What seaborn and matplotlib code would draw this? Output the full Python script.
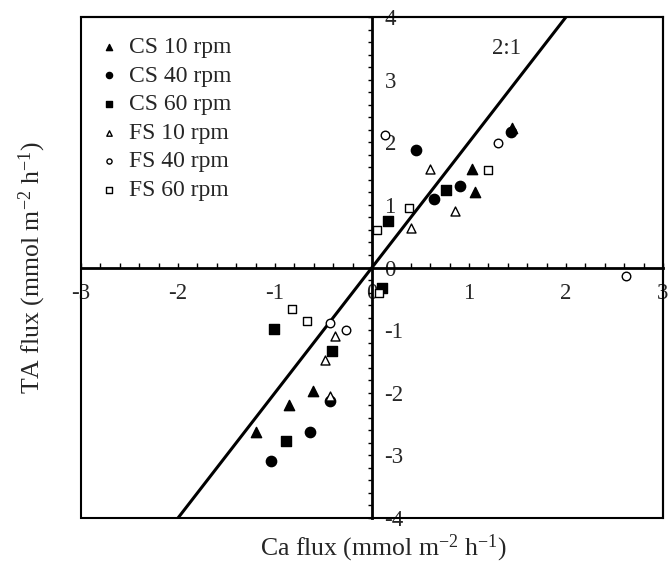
import numpy as np
import pandas as pd
import matplotlib
matplotlib.use("Agg")
import matplotlib.pyplot as plt
from matplotlib.ticker import MultipleLocator, FixedLocator
from matplotlib.patches import Rectangle
import seaborn as sns

# Ca flux vs TA flux for each sediment / stirring treatment
cs10_ca = [1.03, 1.06, 1.44, -0.61, -0.86, -1.20]
cs10_ta = [1.58, 1.21, 2.22, -1.98, -2.19, -2.62]

cs40_ca = [0.45, 0.91, 0.64, 1.43, -0.43, -0.64, -1.04]
cs40_ta = [1.87, 1.30, 1.09, 2.17, -2.13, -2.62, -3.09]

cs60_ca = [0.76, 0.17, 0.10, -1.01, -0.41, -0.89]
cs60_ta = [1.24, 0.75, -0.32, -0.99, -1.34, -2.77]

fs10_ca = [0.60, 0.86, 0.40, -0.38, -0.48, -0.43]
fs10_ta = [1.58, 0.91, 0.63, -1.10, -1.47, -2.05]

fs40_ca = [0.13, 1.30, 2.62, -0.43, -0.27]
fs40_ta = [2.11, 1.99, -0.13, -0.88, -1.00]

fs60_ca = [1.20, 0.38, 0.05, 0.07, -0.82, -0.67]
fs60_ta = [1.56, 0.95, 0.60, -0.40, -0.67, -0.85]

series_names = ["CS 10 rpm", "CS 40 rpm", "CS 60 rpm",
                "FS 10 rpm", "FS 40 rpm", "FS 60 rpm"]

# reference line TA = 2 * Ca
ratio_ca = [-2.0, 2.0]
ratio_ta = [-4.0, 4.0]

x_ticks = [-3, -2, -1, 0, 1, 2, 3]
y_ticks = [-4, -3, -2, -1, 0, 1, 2, 3, 4]

sns.set_theme(style="white")
plt.rcParams["font.family"] = ["Liberation Serif", "DejaVu Serif"]
plt.rcParams["mathtext.fontset"] = "custom"
plt.rcParams["mathtext.rm"] = "Liberation Serif"
plt.rcParams["mathtext.it"] = "Liberation Serif:italic"

frames = []
for name, ca, ta in zip(series_names,
                        [cs10_ca, cs40_ca, cs60_ca, fs10_ca, fs40_ca, fs60_ca],
                        [cs10_ta, cs40_ta, cs60_ta, fs10_ta, fs40_ta, fs60_ta]):
    frames.append(pd.DataFrame({"ca": ca, "ta": ta, "series": name}))
df = pd.concat(frames, ignore_index=True)

style = {
    "CS 10 rpm": dict(marker="^", facecolor="black", s=55),
    "CS 40 rpm": dict(marker="o", facecolor="black", s=55),
    "CS 60 rpm": dict(marker="s", facecolor="black", s=50),
    "FS 10 rpm": dict(marker="^", facecolor="white", s=42),
    "FS 40 rpm": dict(marker="o", facecolor="white", s=38),
    "FS 60 rpm": dict(marker="s", facecolor="white", s=38),
}

fig = plt.figure(figsize=(6.72, 5.65), dpi=100)
ax = fig.add_axes([81 / 672, 47 / 565, 582 / 672, 501 / 565])

ax.plot(ratio_ca, ratio_ta, color="black", lw=2.2, zorder=2)

handles = []
for name in series_names:
    st = style[name]
    sub = df[df["series"] == name]
    sns.scatterplot(data=sub, x="ca", y="ta", ax=ax, marker=st["marker"],
                    s=st["s"], color=st["facecolor"], edgecolor="black",
                    linewidth=1.0, zorder=3, legend=False)
    handles.append(ax.collections[-1])

ax.set_xlim(-3, 3)
ax.set_ylim(-4, 4)

# axes crossing at the origin, with a full frame around the plot
ax.spines["left"].set_position(("data", 0))
ax.spines["bottom"].set_position(("data", 0))
for sp in ax.spines.values():
    sp.set_color("black")
ax.spines["left"].set_linewidth(2.0)
ax.spines["bottom"].set_linewidth(2.0)
ax.spines["top"].set_linewidth(1.5)
ax.spines["right"].set_linewidth(1.5)
ax.add_patch(Rectangle((0, 0), 1, 1, transform=ax.transAxes, fill=False,
                       edgecolor="black", lw=1.5, clip_on=False, zorder=1))

ax.xaxis.set_major_locator(FixedLocator(x_ticks))
ax.yaxis.set_major_locator(FixedLocator(y_ticks))
ax.xaxis.set_minor_locator(MultipleLocator(0.2))
ax.yaxis.set_minor_locator(MultipleLocator(0.2))
ax.xaxis.set_ticks_position("bottom")
ax.yaxis.set_ticks_position("left")

ax.tick_params(axis="x", which="both", direction="in", length=3.5, width=1,
               color="black", pad=11, labelsize=16.5)
ax.tick_params(axis="y", which="both", direction="out", length=3, width=1,
               color="black", pad=-12, labelsize=16.5)
ax.set_xticklabels([str(v) for v in x_ticks])
ax.set_yticklabels([str(v) for v in y_ticks])
for lab in ax.get_yticklabels():
    lab.set_horizontalalignment("left")
    lab.set_bbox(dict(facecolor="white", edgecolor="none", pad=0.5))
for lab in ax.get_xticklabels():
    lab.set_bbox(dict(facecolor="white", edgecolor="none", pad=0.5))

ax.set_xlabel(r"Ca flux (mmol m$^{-2}$ h$^{-1}$)", fontsize=18.5)
ax.set_ylabel(r"TA flux (mmol m$^{-2}$ h$^{-1}$)", fontsize=18.5)
ax.xaxis.set_label_coords(0.519, -0.030)
ax.yaxis.set_label_coords(-0.056, 0.5)

ax.text(1.39, 3.49, "2:1", fontsize=16.5, ha="center", va="center")

ax.legend(handles, series_names, loc="upper left", frameon=False,
          fontsize=17, markerscale=0.6, handlelength=0.8, handletextpad=0.45,
          labelspacing=0.3, borderaxespad=0.0, bbox_to_anchor=(0.015, 0.98))

ax.grid(False)
fig.savefig("out.png", dpi=100)
